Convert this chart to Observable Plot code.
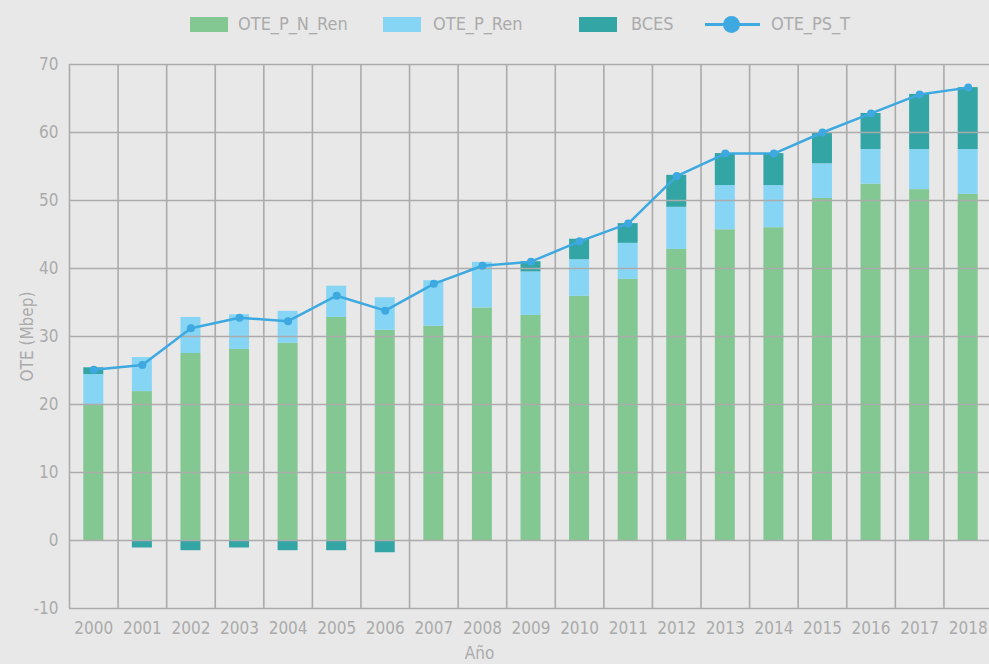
<!DOCTYPE html>
<html>
<head>
<meta charset="utf-8">
<script src="https://cdn.jsdelivr.net/npm/d3@7"></script>
<script src="https://cdn.jsdelivr.net/npm/@observablehq/plot@0.6"></script>
<style>
  html, body { margin: 0; padding: 0; background: #E8E8E8; }
  body { width: 989px; height: 664px; overflow: hidden; font-family: "Liberation Sans Narrow", "DejaVu Sans Condensed", "Roboto", sans-serif; }
  #legend { position: relative; width: 989px; height: 45px; }
  #legend .sw { position: absolute; top: 17px; width: 38px; height: 15px; }
  #legend .lb { position: absolute; top: 12px; font-size: 18px; line-height: 24px; color: #ABABAB; white-space: nowrap; }
  #legend .ln { position: absolute; left: 705px; top: 23px; width: 55px; height: 2.5px; background: #3DA9E0; }
  #legend .dt { position: absolute; left: 723px; top: 16px; width: 17px; height: 17px; border-radius: 50%; background: #3DA9E0; }
</style>
</head>
<body>
<div id="legend"></div>
<div id="chart"></div>
<script>
const years = ["2000","2001","2002","2003","2004","2005","2006","2007","2008","2009","2010","2011","2012","2013","2014","2015","2016","2017","2018"];
const seriesNames = ["OTE_P_N_Ren", "OTE_P_Ren", "BCES"];
const seriesColors = ["#83C892", "#87D5F4", "#33A5A5"];
const lineName = "OTE_PS_T";
const lineColor = "#3DA9E0";

const oteNoRen = [20.0, 21.9, 27.5, 28.1, 29.0, 32.8, 30.9, 31.5, 34.2, 33.1, 35.9, 38.4, 42.8, 45.7, 46.0, 50.3, 52.4, 51.6, 50.9];
const oteRen   = [4.4, 5.0, 5.3, 5.1, 4.7, 4.6, 4.8, 6.7, 6.7, 6.4, 5.4, 5.3, 6.2, 6.5, 6.2, 5.1, 5.1, 5.9, 6.6];
const bces     = [1.0, -1.1, -1.5, -1.1, -1.5, -1.5, -1.8, 0, 0, 1.5, 3.0, 2.9, 4.7, 4.7, 4.7, 4.6, 5.3, 8.1, 9.1];
const otePsT   = [25.1, 25.8, 31.2, 32.75, 32.25, 36.0, 33.8, 37.75, 40.4, 41.0, 44.0, 46.6, 53.6, 56.9, 56.9, 60.0, 62.8, 65.6, 66.6];
const yTicks = [-10, 0, 10, 20, 30, 40, 50, 60, 70];

const seriesValues = [oteNoRen, oteRen, bces];
const tidy = [];
seriesNames.forEach((s, k) => years.forEach((y, i) => tidy.push({year: y, series: s, value: seriesValues[k][i]})));
const lineData = years.map((y, i) => ({year: y, value: otePsT[i]}));

// Legend (HTML, above the SVG)
const legend = document.getElementById("legend");
const swX = [190, 383, 579];
const lbX = [238, 433, 631];
seriesNames.forEach((s, k) => {
  const sw = document.createElement("div");
  sw.className = "sw"; sw.style.left = swX[k] + "px"; sw.style.background = seriesColors[k];
  legend.appendChild(sw);
  const lb = document.createElement("div");
  lb.className = "lb"; lb.style.left = lbX[k] + "px"; lb.textContent = s;
  legend.appendChild(lb);
});
const ln = document.createElement("div"); ln.className = "ln"; legend.appendChild(ln);
const dt = document.createElement("div"); dt.className = "dt"; legend.appendChild(dt);
const lbl = document.createElement("div"); lbl.className = "lb"; lbl.style.left = "771px"; lbl.textContent = lineName; legend.appendChild(lbl);

const xRange = [69, 992];
const band = (xRange[1] - xRange[0]) / years.length;
const barW = 20;
const gridColor = "#ABABAB";

const chart = Plot.plot({
  width: 989,
  height: 619,
  marginTop: 19,
  marginBottom: 56,
  marginLeft: 69,
  marginRight: 0,
  style: {
    background: "#E8E8E8",
    fontFamily: "'Liberation Sans Narrow', 'DejaVu Sans Condensed', Roboto, sans-serif",
    fontSize: "17px",
    color: "#ABABAB",
    overflow: "visible"
  },
  x: {type: "band", domain: years, range: xRange, padding: 0, round: false},
  y: {domain: [-10, 70], ticks: yTicks},
  color: {domain: seriesNames, range: seriesColors},
  marks: [
    Plot.barY(tidy, {x: "year", y: "value", fill: "series", insetLeft: (band - barW) / 2, insetRight: (band - barW) / 2}),
    Plot.ruleY(yTicks, {stroke: gridColor, strokeWidth: 1.6}),
    Plot.ruleX(years, {x: d => d, dx: -band / 2, y1: -10, y2: 70, stroke: gridColor, strokeWidth: 1.6}),
    Plot.axisX({tickSize: 0, tickPadding: 13, label: null, fontSize: 17}),
    Plot.axisY({ticks: yTicks, tickSize: 0, tickPadding: 11, fontSize: 17, tickFormat: d => String(d), label: "OTE (Mbep)", labelArrow: "none", labelAnchor: "center", labelOffset: 49}),
    Plot.line(lineData, {x: "year", y: "value", stroke: lineColor, strokeWidth: 2.5}),
    Plot.dot(lineData, {x: "year", y: "value", fill: lineColor, r: 4}),
    Plot.text(["Año"], {frameAnchor: "bottom", dx: -50, dy: 50, text: d => d, fontSize: 17, fill: "#ABABAB"})
  ]
});
document.getElementById("chart").appendChild(chart);
</script>
</body>
</html>
